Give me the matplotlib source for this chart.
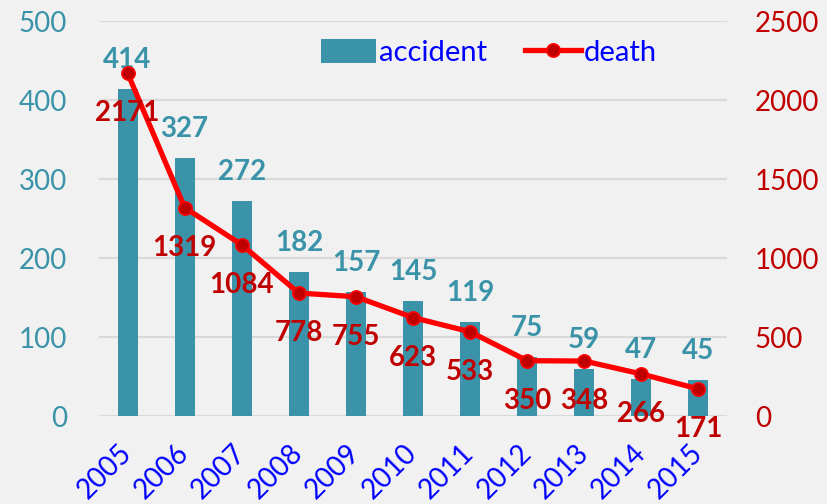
import matplotlib.pyplot as plt
import numpy as np

plt.rcParams['font.family'] = ['Lato', 'DejaVu Sans']

# data
years = ['2005', '2006', '2007', '2008', '2009', '2010', '2011', '2012', '2013', '2014', '2015']
accident = [414, 327, 272, 182, 157, 145, 119, 75, 59, 47, 45]
death = [2171, 1319, 1084, 778, 755, 623, 533, 350, 348, 266, 171]

TEAL = '#3A93A8'
DARK_RED = '#C00000'
RED = '#FF0000'
BG = '#F1F1F1'

fig = plt.figure(figsize=(8.27, 5.04), dpi=100, facecolor=BG)
ax = fig.add_axes([0.1197, 0.1746, 0.7594, 0.7837])
ax.set_facecolor(BG)
ax2 = ax.twinx()

x = np.arange(len(years))

# bars on the left axis
bars = ax.bar(x, accident, width=0.35, color=TEAL, zorder=2, label='accident')
ax.set_ylim(0, 500)
ax.set_xlim(-0.5, len(years) - 0.5)
ax.set_yticks(range(0, 501, 100))
ax.yaxis.grid(True, color='#D9D9D9', lw=1.5, zorder=0)
ax.set_axisbelow(True)
for a in (ax, ax2):
    for s in a.spines.values():
        s.set_visible(False)
ax.tick_params(axis='y', length=0, pad=23, labelsize=20, labelcolor=TEAL)
ax.tick_params(axis='x', length=0, pad=4)
ax.set_xticks(x)
ax.set_xticklabels(years, rotation=45, ha='right', va='center', rotation_mode='anchor',
                   fontsize=20, color='#0000FF')
for lbl in ax.get_xticklabels():
    lbl.set_y(-0.07)

for xi, v in zip(x, accident):
    ax.annotate(str(v), (xi, v), xytext=(0, 21), textcoords='offset points',
                ha='center', va='center', fontsize=20, fontweight='bold', color=TEAL)

# deaths line on the right axis
ax2.plot(x, death, color=RED, lw=3.8, marker='o', ms=9.5, mfc=DARK_RED, mec=RED,
         mew=1.2, zorder=3, label='death')
ax2.set_ylim(0, 2500)
ax2.set_yticks(range(0, 2501, 500))
ax2.tick_params(axis='y', length=0, pad=20, labelsize=20, labelcolor=DARK_RED)

for xi, v in zip(x, death):
    ax2.annotate(str(v), (xi, v), xytext=(0, -29), textcoords='offset points',
                 ha='center', va='center', fontsize=20, fontweight='bold', color=DARK_RED)

ax.set_zorder(ax2.get_zorder() - 1)
ax.patch.set_visible(True)
ax2.patch.set_visible(False)

h1, l1 = ax.get_legend_handles_labels()
h2, l2 = ax2.get_legend_handles_labels()
leg = ax2.legend(h1 + h2, l1 + l2, loc='center', bbox_to_anchor=(0.621, 0.92),
                 ncol=2, frameon=False, fontsize=21, handlelength=1.9, handleheight=0.9,
                 handletextpad=0.1, columnspacing=1.3, labelcolor='#0000FF')

fig.savefig('out.png', dpi=100, facecolor=BG)
